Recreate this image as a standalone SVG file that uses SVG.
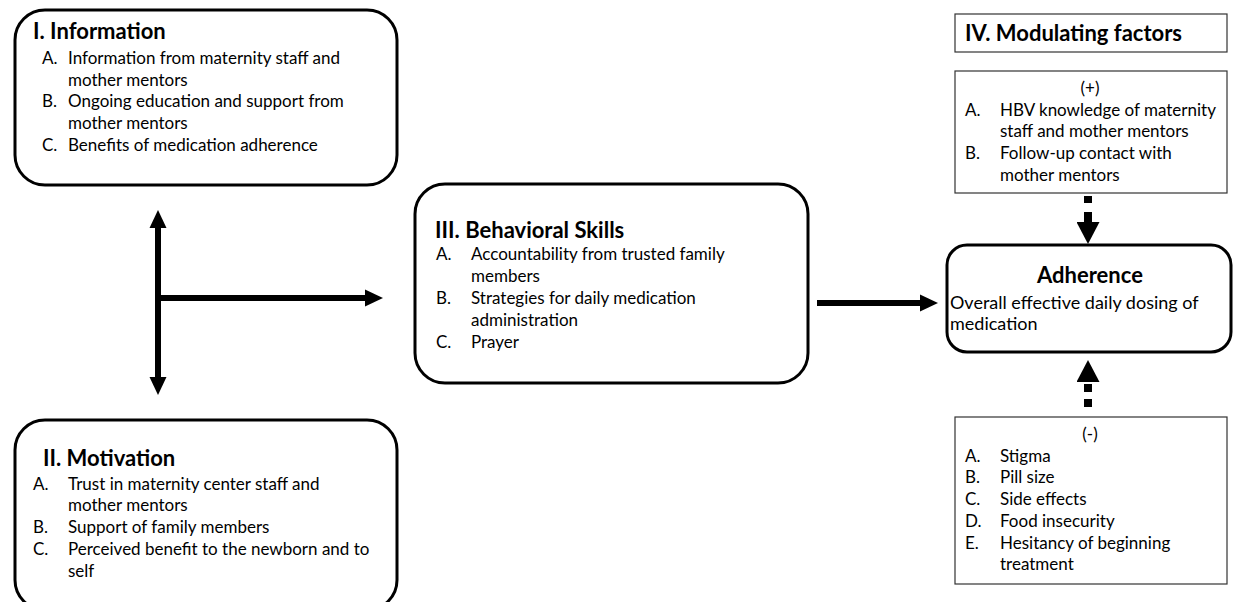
<svg xmlns="http://www.w3.org/2000/svg" width="1233" height="602" viewBox="0 0 1233 602">
<defs>
<style>
.rbox{fill:#fff;stroke:#000;stroke-width:3}
.sbox{fill:#fff;stroke:#333;stroke-width:1.2}
text{font-family:Lato,"Liberation Sans",sans-serif;fill:#000}
.t{font-size:22px;font-weight:bold}
.b{font-size:17px}
.bl{font-size:18px}
.c{text-anchor:middle}
.arr{stroke:#000;stroke-width:6;fill:none}
.dash{stroke:#000;stroke-width:8;fill:none}
</style>
<marker id="head" markerUnits="userSpaceOnUse" markerWidth="18" markerHeight="18" refX="0" refY="8.5" orient="auto-start-reverse" viewBox="0 0 18 17">
<path d="M0,0 L18,8.5 L0,17 z" fill="#000"/>
</marker>
<marker id="bighead" markerUnits="userSpaceOnUse" markerWidth="22" markerHeight="23" refX="0" refY="11.5" orient="auto" viewBox="0 0 22 23">
<path d="M0,0 L22,11.5 L0,23 z" fill="#000"/>
</marker>
</defs>
<g id="connectors">
<line class="arr" x1="158" y1="228" x2="158" y2="377" marker-start="url(#head)" marker-end="url(#head)"/>
<line class="arr" x1="158" y1="298" x2="365" y2="298" marker-end="url(#head)"/>
<line class="arr" x1="817" y1="303" x2="920" y2="303" marker-end="url(#head)"/>
<line class="dash" x1="1088" y1="196" x2="1088" y2="222" stroke-dasharray="7 9 10" marker-end="url(#bighead)"/>
<line class="dash" x1="1088" y1="407" x2="1088" y2="382" stroke-dasharray="8 7 8 7" marker-end="url(#bighead)"/>
</g>
<g id="information">
<rect class="rbox" x="15" y="10" width="382" height="175" rx="30"/>
<text class="t" x="33" y="39">I. Information</text>
<text class="b" x="42" y="64">A.</text>
<text class="b" x="68" y="64">Information from maternity staff and</text>
<text class="b" x="68" y="85.5">mother mentors</text>
<text class="b" x="42" y="107">B.</text>
<text class="b" x="68" y="107">Ongoing education and support from</text>
<text class="b" x="68" y="129">mother mentors</text>
<text class="b" x="42" y="151">C.</text>
<text class="b" x="68" y="151">Benefits of medication adherence</text>
</g>
<g id="motivation">
<rect class="rbox" x="15" y="420" width="382" height="190" rx="30"/>
<text class="t" x="43" y="466">II. Motivation</text>
<text class="b" x="33" y="490">A.</text>
<text class="b" x="68" y="490">Trust in maternity center staff and</text>
<text class="b" x="68" y="511">mother mentors</text>
<text class="b" x="33" y="533">B.</text>
<text class="b" x="68" y="533">Support of family members</text>
<text class="b" x="33" y="555">C.</text>
<text class="b" x="68" y="555">Perceived benefit to the newborn and to</text>
<text class="b" x="68" y="577">self</text>
</g>
<g id="behavioral">
<rect class="rbox" x="415" y="184" width="393" height="199" rx="30"/>
<text class="t" x="435" y="238">III. Behavioral Skills</text>
<text class="b" x="436" y="260">A.</text>
<text class="b" x="471" y="260">Accountability from trusted family</text>
<text class="b" x="471" y="282">members</text>
<text class="b" x="436" y="304">B.</text>
<text class="b" x="471" y="304">Strategies for daily medication</text>
<text class="b" x="471" y="326">administration</text>
<text class="b" x="436" y="348">C.</text>
<text class="b" x="471" y="348">Prayer</text>
</g>
<g id="adherence">
<rect class="rbox" x="947" y="245" width="284" height="107" rx="20"/>
<text class="t c" x="1090" y="283">Adherence</text>
<text class="bl" x="950" y="309">Overall effective daily dosing of</text>
<text class="bl" x="950" y="330">medication</text>
</g>
<g id="modulating">
<rect class="sbox" x="955" y="14" width="272" height="38"/>
<text class="t" x="965" y="41">IV. Modulating factors</text>
</g>
<g id="positive">
<rect class="sbox" x="955" y="71" width="272" height="122"/>
<text class="b c" x="1090" y="94">(+)</text>
<text class="b" x="965" y="116">A.</text>
<text class="b" x="1000" y="116">HBV knowledge of maternity</text>
<text class="b" x="1000" y="137">staff and mother mentors</text>
<text class="b" x="965" y="159">B.</text>
<text class="b" x="1000" y="159">Follow-up contact with</text>
<text class="b" x="1000" y="181">mother mentors</text>
</g>
<g id="negative">
<rect class="sbox" x="955" y="417" width="272" height="167"/>
<text class="b c" x="1090" y="440">(-)</text>
<text class="b" x="965" y="462">A.</text>
<text class="b" x="1000" y="462">Stigma</text>
<text class="b" x="965" y="483">B.</text>
<text class="b" x="1000" y="483">Pill size</text>
<text class="b" x="965" y="505">C.</text>
<text class="b" x="1000" y="505">Side effects</text>
<text class="b" x="965" y="527">D.</text>
<text class="b" x="1000" y="527">Food insecurity</text>
<text class="b" x="965" y="549">E.</text>
<text class="b" x="1000" y="549">Hesitancy of beginning</text>
<text class="b" x="1000" y="570">treatment</text>
</g>
</svg>
